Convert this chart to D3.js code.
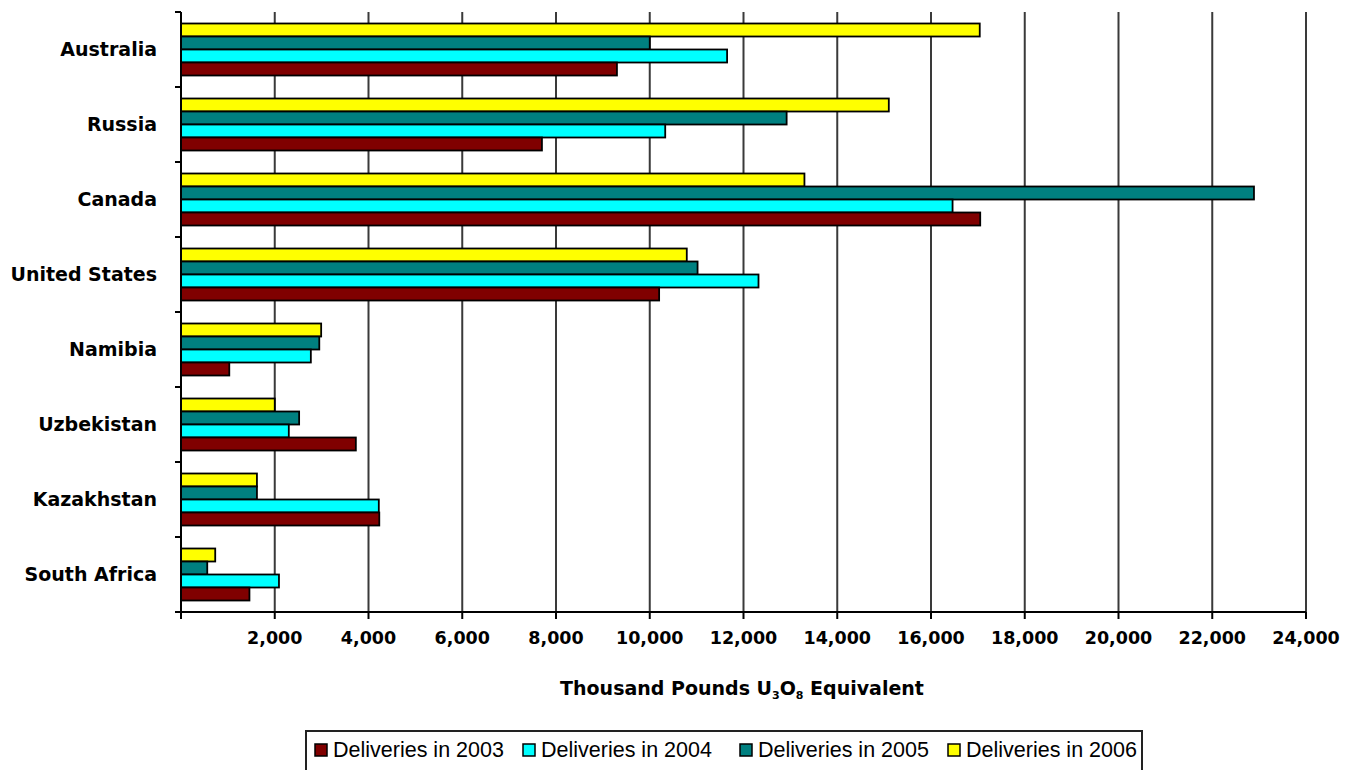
<!DOCTYPE html>
<html><head><meta charset="utf-8">
<script src="https://cdn.jsdelivr.net/npm/d3@7"></script>
<style>body{margin:0;background:#fff}svg{display:block}</style>
</head><body><svg id="c" width="1350" height="770"></svg>
<script>
const categories = ["Australia","Russia","Canada","United States","Namibia","Uzbekistan","Kazakhstan","South Africa"];
const seriesNames = ["Deliveries in 2003","Deliveries in 2004","Deliveries in 2005","Deliveries in 2006"];
const d2003 = [9300, 7700, 17050, 10200, 1030, 3730, 4230, 1460];
const d2004 = [11650, 10330, 16460, 12320, 2770, 2300, 4220, 2090];
const d2005 = [10000, 12920, 22890, 11020, 2950, 2520, 1620, 560];
const d2006 = [17040, 15100, 13300, 10790, 2990, 2000, 1620, 730];
const xTicks = [2000,4000,6000,8000,10000,12000,14000,16000,18000,20000,22000,24000];
const colors = ["#800000","#00FFFF","#008080","#FFFF00"];
const series = [d2003,d2004,d2005,d2006];

const svg = d3.select("#c");
const L=181, R=1306, T=12, B=612;
const x = d3.scaleLinear().domain([0,24000]).range([L,R]);
const y = d3.scaleBand().domain(categories).range([T,B]);
const yi = d3.scaleBand().domain([3,2,1,0]).range([11.5, y.bandwidth()-11.5]);

svg.append("g").selectAll("line").data(xTicks).join("line")
  .attr("x1",d=>x(d)).attr("x2",d=>x(d)).attr("y1",T).attr("y2",B)
  .attr("stroke","#3a3a3a").attr("stroke-width",2);

const g = svg.append("g");
categories.forEach((c,ci)=>{
  [3,2,1,0].forEach(si=>{
    g.append("rect")
      .attr("x",x(0)).attr("y",y(c)+yi(si))
      .attr("width",x(series[si][ci])-x(0)).attr("height",yi.bandwidth())
      .attr("fill",colors[si]).attr("stroke","#000").attr("stroke-width",1.8);
  });
});

const yAxis = svg.append("g");
yAxis.append("line").attr("x1",L).attr("x2",L).attr("y1",T).attr("y2",B).attr("stroke","#000").attr("stroke-width",2);
yAxis.selectAll("line.t").data(d3.range(categories.length+1)).join("line").attr("class","t")
  .attr("x1",L-6).attr("x2",L).attr("y1",i=>T+i*y.step()).attr("y2",i=>T+i*y.step())
  .attr("stroke","#000").attr("stroke-width",2);
yAxis.selectAll("text").data(categories).join("text")
  .attr("x",157).attr("y",d=>y(d)+y.bandwidth()/2).attr("dy","0.36em")
  .attr("text-anchor","end").attr("font-family","DejaVu Sans, Verdana, sans-serif")
  .attr("font-weight","bold").attr("font-size",19).attr("fill","#000").text(d=>d);

const xa = svg.append("g");
xa.append("line").attr("x1",L-6).attr("x2",R).attr("y1",B).attr("y2",B).attr("stroke","#000").attr("stroke-width",2);
xa.selectAll("line.t").data([0].concat(xTicks)).join("line").attr("class","t")
  .attr("x1",d=>x(d)).attr("x2",d=>x(d)).attr("y1",B).attr("y2",B+7)
  .attr("stroke","#000").attr("stroke-width",2);
xa.selectAll("text").data(xTicks).join("text")
  .attr("x",d=>x(d)).attr("y",644).attr("text-anchor","middle")
  .attr("font-family","DejaVu Sans, Verdana, sans-serif").attr("font-weight","bold")
  .attr("font-size",17.5).attr("fill","#000").text(d=>d3.format(",")(d));

const tt = svg.append("text").attr("x",742).attr("y",695).attr("text-anchor","middle")
  .attr("font-family","DejaVu Sans, Verdana, sans-serif").attr("font-weight","bold")
  .attr("font-size",19).attr("fill","#000");
tt.append("tspan").text("Thousand Pounds U");
tt.append("tspan").attr("font-size",11).attr("dy",4).text("3");
tt.append("tspan").attr("dy",-4).text("O");
tt.append("tspan").attr("font-size",11).attr("dy",4).text("8");
tt.append("tspan").attr("dy",-4).text(" Equivalent");

const lg = svg.append("g");
lg.append("rect").attr("x",306).attr("y",731).attr("width",836).attr("height",40)
  .attr("fill","#fff").attr("stroke","#222").attr("stroke-width",2);
const lx = [315, 523, 740, 948];
seriesNames.forEach((n,i)=>{
  lg.append("rect").attr("x",lx[i]).attr("y",744).attr("width",12).attr("height",12)
    .attr("fill",colors[i]).attr("stroke","#000").attr("stroke-width",1.5);
  lg.append("text").attr("x",lx[i]+18).attr("y",757)
    .attr("font-family","Liberation Sans, Arial, sans-serif").attr("font-size",21.5)
    .attr("fill","#000").text(n);
});
</script></body></html>
